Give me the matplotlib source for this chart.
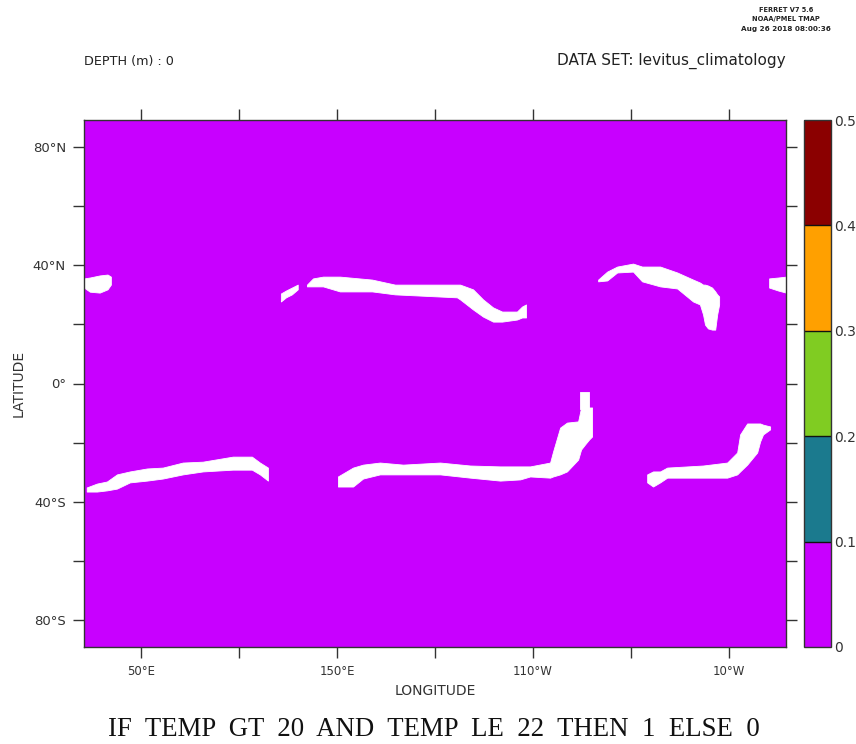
import numpy as np
import matplotlib
matplotlib.use("Agg")
import matplotlib.pyplot as plt
from matplotlib.colors import ListedColormap, BoundaryNorm

# ---- data ----
levels = [0, 0.1, 0.2, 0.3, 0.4, 0.5]
level_labels = ["0", "0.1", "0.2", "0.3", "0.4", "0.5"]
colors = ["#C800FF", "#1B7A8E", "#80CC22", "#FFA000", "#8B0000"]
grid_lon = [21, 379]
grid_lat = [-89, 89]
field = [[0.0]]

lon_ticks = [50, 100, 150, 200, 250, 300, 350]
lon_labels = ["50°E", "", "150°E", "", "110°W", "", "10°W"]
lat_ticks = [-80, -60, -40, -20, 0, 20, 40, 60, 80]
lat_labels = ["80°S", "", "40°S", "", "0°", "", "40°N", "", "80°N"]

# regions where 20 < TEMP <= 22 : lon, northern lat, southern lat
a_lon = [21, 24, 29, 33, 34.7]
a_top = [35.5, 35.8, 36.5, 36.8, 36.1]
a_bot = [32.4, 31, 30.7, 31.8, 33.4]

b_lon = [370.4, 375, 379]
b_top = [35.5, 35.8, 36.1]
b_bot = [32.4, 31.4, 30.7]

c_lon = [121.4, 124, 127, 130]
c_top = [30.4, 31.4, 32.4, 33.4]
c_bot = [27.7, 29.1, 30.1, 31.8]

d_lon = [134.7, 137.8, 142.9, 151.5, 167.9, 179.6, 211.2, 212.8, 219.4, 224.5, 229.6, 234.2, 241.8, 244.4, 246.4]
d_top = [33.4, 35.5, 36.1, 36.1, 35.1, 33.4, 33.4, 33.4, 31.8, 28.4, 25.7, 24.3, 24.3, 26, 26.7]
d_bot = [32.8, 32.8, 32.8, 31.1, 31.1, 30.1, 29.1, 28.4, 25, 22.6, 20.9, 20.9, 21.6, 22.3, 22.3]

e_lon = [283.2, 287.8, 292.9, 301, 305.6, 314.8, 323.5, 331.6, 335.1, 336.7, 337.7, 339.2, 341.3, 342.9, 343.9, 344.9]
e_top = [35.1, 37.8, 39.5, 40.5, 39.5, 39.5, 37.5, 35.1, 34.1, 33.4, 33.4, 33.1, 32.4, 31.1, 30.1, 29.4]
e_bot = [34.5, 34.8, 37.5, 37.8, 34.5, 32.8, 32.1, 27.7, 26.7, 23.3, 19.9, 18.6, 18.2, 18.2, 23.3, 26.7]

f_lon = [22.4, 27.6, 32.7, 37.8, 44.4, 53.1, 61.2, 71.4, 81.6, 96.9, 106.6, 110.7, 114.8]
f_top = [-35.1, -33.8, -33.1, -30.7, -29.7, -28.7, -28.4, -26.7, -26.4, -24.7, -24.7, -26.7, -28.4]
f_bot = [-36.5, -36.5, -36.1, -35.5, -33.4, -32.8, -32.1, -30.7, -29.7, -29.1, -29.1, -30.7, -32.8]

g_lon = [150.5, 158.2, 163.3, 171.9, 183.7, 202.6, 217.9, 233.2, 243.4, 248.5, 258.7, 260.2, 263.8, 267.3, 273, 274.5, 276.5, 278.6, 280.1]
g_top = [-31.4, -28.4, -27.4, -26.7, -27.4, -26.7, -27.7, -28, -28, -28, -26.7, -23, -14.9, -13.2, -12.8, -8.1, -8.1, -8.1, -8.1]
g_bot = [-34.8, -34.8, -32.1, -30.7, -30.7, -30.7, -31.8, -32.8, -32.4, -31.4, -31.8, -31.4, -30.7, -29.7, -25.7, -22.3, -20.6, -18.9, -17.9]

h_lon = [274, 278.6]
h_top = [-3, -3]
h_bot = [-8.5, -8.5]

i_lon = [308.2, 311.2, 314.8, 318.4, 336.7, 349, 354.1, 355.6, 359.2, 364.3, 365.8, 367.3, 370.9]
i_top = [-30.7, -29.7, -29.7, -28.4, -27.7, -26.7, -23.3, -17.2, -13.5, -13.5, -13.5, -13.9, -14.5]
i_bot = [-33.4, -34.8, -33.4, -31.8, -31.8, -31.8, -30.7, -29.7, -27.4, -23.3, -19.6, -17.2, -15.5]

regions = [(a_lon, a_top, a_bot), (b_lon, b_top, b_bot), (c_lon, c_top, c_bot),
           (d_lon, d_top, d_bot), (e_lon, e_top, e_bot), (f_lon, f_top, f_bot),
           (g_lon, g_top, g_bot), (h_lon, h_top, h_bot), (i_lon, i_top, i_bot)]

# ---- drawing ----
W, H = 856, 744
INK = "#333333"
fig = plt.figure(figsize=(W / 100, H / 100), dpi=100)
plt.rcParams["font.family"] = "DejaVu Sans"

def box(l, t, r, b):
    return [l / W, 1 - b / H, (r - l) / W, (b - t) / H]

ax = fig.add_axes(box(84, 120, 786, 647))
cmap = ListedColormap(colors)
norm = BoundaryNorm(levels, cmap.N)
ax.pcolormesh(grid_lon, grid_lat, np.array(field), cmap=cmap, norm=norm, shading="flat")
for lon, top, bot in regions:
    ax.fill_between(lon, bot, top, color="white", linewidth=0.6)
ax.set_xlim(21, 379)
ax.set_ylim(-89, 89)
ax.set_xticks(lon_ticks, lon_labels)
ax.set_yticks(lat_ticks, lat_labels)
ax.tick_params(axis="both", length=8, width=1, color=INK, labelcolor=INK,
               top=True, right=True)
ax.tick_params(axis="x", labelsize=8.5, pad=5)
ax.tick_params(axis="y", labelsize=9.5, pad=5)
for s in ax.spines.values():
    s.set_color(INK)
    s.set_linewidth(1)
ax.set_xlabel("LONGITUDE", fontsize=10, color=INK, labelpad=4)
ax.set_ylabel("LATITUDE", fontsize=10, color=INK, labelpad=5)

cax = fig.add_axes(box(804, 120, 831, 647))
sm = plt.cm.ScalarMappable(cmap=cmap, norm=norm)
cb = fig.colorbar(sm, cax=cax, spacing="proportional", drawedges=True)
cb.set_ticks(levels, labels=level_labels)
cb.ax.tick_params(length=0, labelsize=10, labelcolor=INK, pad=2)
cb.outline.set_edgecolor(INK)
cb.outline.set_linewidth(1)
cb.dividers.set_color("#111111")
cb.dividers.set_linewidth(1)

def ptext(x, y, s, **kw):
    return fig.text(x / W, 1 - y / H, s, va="center", color=kw.pop("color", "#222222"), **kw)

ptext(84, 61, "DEPTH (m) : 0", fontsize=9.2, ha="left")
ptext(786, 61, "DATA SET: levitus_climatology", fontsize=11, ha="right")
ptext(786, 10, "FERRET V7 5.6", fontsize=4.8, ha="center", weight="bold")
ptext(786, 19, "NOAA/PMEL TMAP", fontsize=4.8, ha="center", weight="bold")
ptext(786, 29, "Aug 26 2018 08:00:36", fontsize=5.2, ha="center", weight="bold")
ptext(434, 730, "IF  TEMP  GT  20  AND  TEMP  LE  22  THEN  1  ELSE  0", fontsize=19.3,
      ha="center", family="Liberation Serif", color="#111111")

fig.savefig("out.png", dpi=100)
